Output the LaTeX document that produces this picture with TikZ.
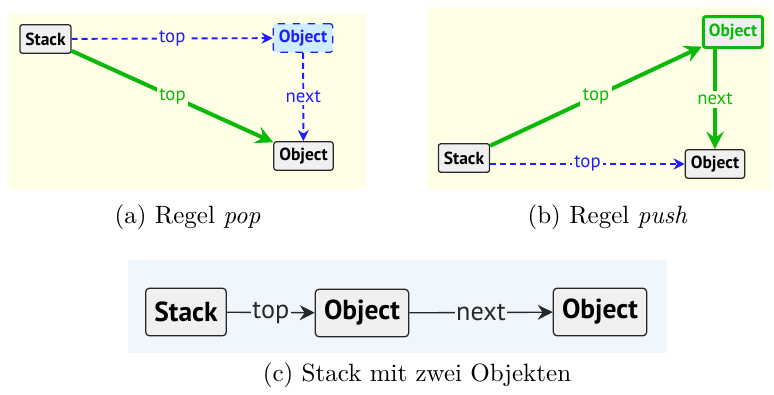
\documentclass[tikz,border=0pt]{standalone}
\usepackage{fontspec}
\usepackage{tikz}
\usetikzlibrary{arrows.meta, positioning}
\newfontfamily\diafont{PT Sans}

\definecolor{ruleyellow}{RGB}{255,255,230}
\definecolor{graphblue}{RGB}{240,247,252}
\definecolor{delblue}{RGB}{30,30,255}
\definecolor{delfill}{RGB}{205,238,255}
\definecolor{newgreen}{RGB}{10,185,10}
\definecolor{boxfill}{RGB}{240,240,240}
\definecolor{boxline}{RGB}{40,40,40}

\begin{document}
\begin{tikzpicture}[x=0.4pt, y=-0.4pt, font=\normalsize]

\useasboundingbox (0,0) rectangle (774,394);

\tikzset{
  objbox/.style={draw=boxline, fill=boxfill, rounded corners=1pt, line width=0.5pt,
                 minimum height=11.4pt, inner xsep=2.2pt, inner ysep=1pt,
                 font=\diafont\bfseries\fontsize{7}{8}\selectfont},
  bigbox/.style={objbox, rounded corners=1.5pt, minimum height=19pt, inner xsep=3.5pt,
                 font=\diafont\bfseries\fontsize{11}{12}\selectfont},
  delbox/.style={objbox, draw=delblue, fill=delfill, text=delblue, dashed},
  newbox/.style={objbox, draw=newgreen, text=newgreen, line width=1.2pt,
                 minimum height=12.4pt},
  deledge/.style={draw=delblue, line width=0.75pt, dash pattern=on 2.4pt off 1.6pt,
                  -{Stealth[length=4.5pt, width=4.5pt, inset=1.5pt]}},
  newedge/.style={draw=newgreen, line width=1.6pt,
                  -{Stealth[length=7pt, width=7pt, inset=2.5pt]}},
  plainedge/.style={draw=boxline, line width=0.55pt,
                    -{Stealth[length=6pt, width=6pt, inset=2pt]}},
  edgelbl/.style={fill=ruleyellow, inner sep=1pt, font=\diafont\fontsize{7.5}{8}\selectfont},
  biglbl/.style={fill=graphblue, inner sep=0.6pt, text=boxline,
                 font=\diafont\fontsize{10.5}{12}\selectfont}
}

% backgrounds
\fill[ruleyellow] (8,13) rectangle (366,189);
\fill[ruleyellow] (428,7) rectangle (771,189);
\fill[graphblue] (128,260) rectangle (667,353);

% (a) pop
\node[objbox] (stackA)  at (45.5,39)  {Stack};
\node[delbox] (topA)    at (303,38)   {Object};
\node[objbox] (nextA)   at (303.5,156) {Object};

\draw[deledge] (stackA) -- node[edgelbl, text=delblue] {top} (topA);
\draw[deledge] (topA) -- node[edgelbl, text=delblue] {next} (nextA);
\draw[newedge] (stackA) -- node[edgelbl, text=newgreen] {top} (nextA);

% (b) push
\node[objbox] (stackB) at (464,158) {Stack};
\node[newbox] (newB)   at (733,32)  {Object};
\node[objbox] (oldB)   at (715,164) {Object};

\draw[newedge] (stackB) -- node[edgelbl, text=newgreen] {top} (newB);
\draw[newedge] (oldB.north |- newB.south) -- node[edgelbl, text=newgreen] {next} (oldB.north);
\draw[deledge] (stackB.east |- oldB.west) -- node[edgelbl, text=delblue] {top} (oldB.west);

% (c) stack with two objects
\node[bigbox] (stackC) at (186,312) {Stack};
\node[bigbox] (firstC) at (362,313) {Object};
\node[bigbox] (secondC) at (600,312) {Object};

\draw[plainedge] (stackC) -- node[biglbl] {top} (firstC);
\draw[plainedge] (firstC) -- node[biglbl] {next} (secondC);

% captions
\node[anchor=base] (capA) at (187.5,223) {(a) Regel \textit{pop}};
\node[anchor=base] (capB) at (607.5,223) {(b) Regel \textit{push}};
\node[anchor=base] (capC) at (417,381)   {(c) Stack mit zwei Objekten};

\end{tikzpicture}
\end{document}
